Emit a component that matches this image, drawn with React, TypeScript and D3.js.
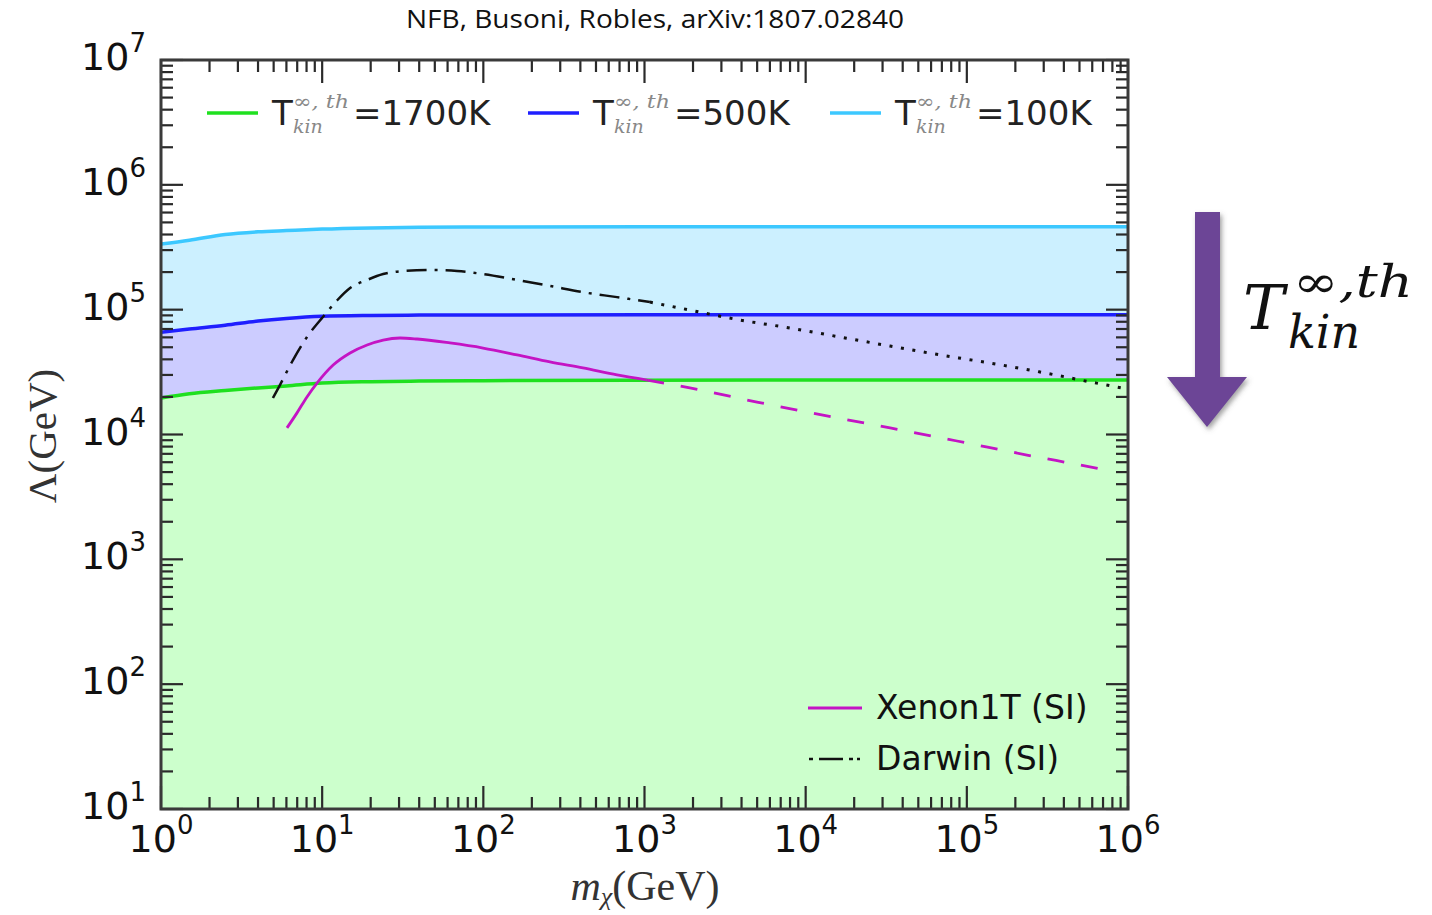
import { useEffect, useRef } from "react";
import * as d3 from "d3";

// thermal kinetic bands, Lambda (GeV) vs m_chi (GeV)
const bandMass = [1, 1.5, 2.5, 4, 6, 10, 20, 40, 100, 1e3, 1e4, 1e5, 1e6];
const lambda1700K = [1.96e4, 2.12e4, 2.25e4, 2.36e4, 2.45e4, 2.58e4, 2.65e4, 2.68e4, 2.7e4, 2.72e4, 2.73e4, 2.73e4, 2.73e4];
const lambda500K = [6.6e4, 7.0e4, 7.5e4, 8.1e4, 8.5e4, 8.85e4, 9.0e4, 9.05e4, 9.08e4, 9.1e4, 9.1e4, 9.1e4, 9.1e4];
const lambda100K = [3.35e5, 3.6e5, 4.0e5, 4.2e5, 4.3e5, 4.42e5, 4.52e5, 4.58e5, 4.6e5, 4.62e5, 4.62e5, 4.62e5, 4.62e5];
const tempLabels = ["1700K", "500K", "100K"];

// direct detection limits
const xenonMass = [6.05, 6.98, 8.05, 9.29, 11.7, 14.9, 19.0, 23.9, 30.4, 38.8, 62.1, 99.6, 162, 259, 415, 675, 1040, 1910, 4990, 1.28e4, 3.34e4, 8.69e4, 2.36e5, 6.24e5, 7.2e5];
const xenonLambda = [1.13e4, 1.49e4, 2.0e4, 2.58e4, 3.6e4, 4.5e4, 5.21e4, 5.71e4, 5.93e4, 5.82e4, 5.41e4, 4.93e4, 4.34e4, 3.81e4, 3.41e4, 3.0e4, 2.73e4, 2.36e4, 1.82e4, 1.43e4, 1.13e4, 8.87e3, 6.85e3, 5.4e3, 5.2e3];
const xenonDashedFrom = 1040;

const darwinMass = [4.95, 5.47, 6.59, 8.05, 10.1, 12.4, 14.9, 19.0, 23.9, 31.8, 46.7, 68.7, 99.6, 162, 259, 415, 675, 1080, 1910, 3910, 8000, 1.63e4, 3.34e4, 6.82e4, 1.39e5, 2.84e5, 5.81e5, 1e6];
const darwinLambda = [1.96e4, 2.49e4, 3.95e4, 6.04e4, 8.73e4, 1.19e5, 1.49e5, 1.73e5, 1.93e5, 2.04e5, 2.08e5, 2.04e5, 1.93e5, 1.73e5, 1.55e5, 1.38e5, 1.26e5, 1.15e5, 9.93e4, 8.26e4, 7.13e4, 6.04e4, 5.11e4, 4.34e4, 3.74e4, 3.17e4, 2.64e4, 2.31e4];
const darwinDottedFrom = 1080;

const xDecades = [0, 1, 2, 3, 4, 5, 6];
const yDecades = [1, 2, 3, 4, 5, 6, 7];

const W = 1432, H = 915;
const left = 161, right = 1128, top = 60, bottom = 809;

function App() {
    const ref = useRef(null);

    useEffect(() => {
        const svg = d3.select(ref.current);
        svg.selectAll("*").remove();

        const x = d3.scaleLog().domain([1, 1e6]).range([left, right]);
        const y = d3.scaleLog().domain([10, 1e7]).range([bottom, top]);

        svg.append("defs").append("clipPath").attr("id", "plotclip")
            .append("rect").attr("x", left).attr("y", top)
            .attr("width", right - left).attr("height", bottom - top);
        const shadow = svg.select("defs").append("filter").attr("id", "shadow")
            .attr("x", "-30%").attr("y", "-30%").attr("width", "160%").attr("height", "160%");
        shadow.append("feDropShadow").attr("dx", 2).attr("dy", 3).attr("stdDeviation", 2.5)
            .attr("flood-color", "#555").attr("flood-opacity", 0.55);

        const plot = svg.append("g").attr("clip-path", "url(#plotclip)");

        const bands = bandMass.map((m, i) => ({ m, g: lambda1700K[i], b: lambda500K[i], c: lambda100K[i] }));
        const area = (lo, hi) => d3.area()
            .x(d => x(d.m)).y0(d => y(lo(d))).y1(d => y(hi(d)))
            .curve(d3.curveMonotoneX);

        plot.append("path").datum(bands).attr("fill", "#ccffcc").attr("d", area(() => 10, d => d.g));
        plot.append("path").datum(bands).attr("fill", "#ccccff").attr("d", area(d => d.g, d => d.b));
        plot.append("path").datum(bands).attr("fill", "#ccf0ff").attr("d", area(d => d.b, d => d.c));

        const line = d3.line().x(d => x(d[0])).y(d => y(d[1])).curve(d3.curveMonotoneX);
        const bandLines = [
            { key: "g", color: "#1fe01f" },
            { key: "b", color: "#1f1fff" },
            { key: "c", color: "#3cc8ff" },
        ];
        bandLines.forEach(bl => {
            plot.append("path").datum(bands.map(d => [d.m, d[bl.key]]))
                .attr("fill", "none").attr("stroke", bl.color).attr("stroke-width", 3.5)
                .attr("d", line);
        });

        const xenon = xenonMass.map((m, i) => [m, xenonLambda[i]]);
        plot.append("path").datum(xenon.filter(d => d[0] <= xenonDashedFrom))
            .attr("fill", "none").attr("stroke", "#c414c4").attr("stroke-width", 2.8).attr("d", line);
        plot.append("path").datum(xenon.filter(d => d[0] >= xenonDashedFrom))
            .attr("fill", "none").attr("stroke", "#c414c4").attr("stroke-width", 2.8)
            .attr("stroke-dasharray", "17,17").attr("d", line);

        const darwin = darwinMass.map((m, i) => [m, darwinLambda[i]]);
        plot.append("path").datum(darwin.filter(d => d[0] <= darwinDottedFrom))
            .attr("fill", "none").attr("stroke", "#111").attr("stroke-width", 2.5)
            .attr("stroke-dasharray", "20,8,3,8").attr("d", line);
        plot.append("path").datum(darwin.filter(d => d[0] >= darwinDottedFrom))
            .attr("fill", "none").attr("stroke", "#111").attr("stroke-width", 3)
            .attr("stroke-dasharray", "3,8.6").attr("d", line);

        // ticks on all four sides, pointing inwards
        const ticks = svg.append("g").attr("stroke", "#2a2a2a").attr("stroke-width", 2.2);
        const xMinor = [], yMinor = [];
        xDecades.slice(0, -1).forEach(e => d3.range(2, 10).forEach(k => xMinor.push(k * 10 ** e)));
        yDecades.slice(0, -1).forEach(e => d3.range(2, 10).forEach(k => yMinor.push(k * 10 ** e)));
        xDecades.forEach(e => {
            const px = x(10 ** e);
            ticks.append("line").attr("x1", px).attr("x2", px).attr("y1", bottom).attr("y2", bottom - 23);
            ticks.append("line").attr("x1", px).attr("x2", px).attr("y1", top).attr("y2", top + 23);
        });
        xMinor.forEach(v => {
            const px = x(v);
            ticks.append("line").attr("x1", px).attr("x2", px).attr("y1", bottom).attr("y2", bottom - 12);
            ticks.append("line").attr("x1", px).attr("x2", px).attr("y1", top).attr("y2", top + 12);
        });
        yDecades.forEach(e => {
            const py = y(10 ** e);
            ticks.append("line").attr("y1", py).attr("y2", py).attr("x1", left).attr("x2", left + 22);
            ticks.append("line").attr("y1", py).attr("y2", py).attr("x1", right).attr("x2", right - 22);
        });
        yMinor.forEach(v => {
            const py = y(v);
            ticks.append("line").attr("y1", py).attr("y2", py).attr("x1", left).attr("x2", left + 12);
            ticks.append("line").attr("y1", py).attr("y2", py).attr("x1", right).attr("x2", right - 12);
        });

        svg.append("rect").attr("x", left).attr("y", top)
            .attr("width", right - left).attr("height", bottom - top)
            .attr("fill", "none").attr("stroke", "#3a3a3a").attr("stroke-width", 3);

        // tick labels
        const font = "DejaVu Sans";
        xDecades.forEach(e => {
            const t = svg.append("text").attr("x", x(10 ** e)).attr("y", 852)
                .attr("text-anchor", "middle").attr("font-family", font).attr("font-size", 38).attr("fill", "#111");
            t.append("tspan").text("10");
            t.append("tspan").attr("dy", -18).attr("font-size", 26).text(e);
        });
        yDecades.forEach(e => {
            const t = svg.append("text").attr("x", 146).attr("y", y(10 ** e) + 10)
                .attr("text-anchor", "end").attr("font-family", font).attr("font-size", 38).attr("fill", "#111");
            t.append("tspan").text("10");
            t.append("tspan").attr("dy", -18).attr("font-size", 26).text(e);
        });

        // axis labels
        const xl = svg.append("text").attr("x", 645).attr("y", 900).attr("text-anchor", "middle")
            .attr("font-family", "Liberation Serif").attr("font-size", 42).attr("fill", "#333");
        xl.append("tspan").attr("font-style", "italic").text("m");
        xl.append("tspan").attr("font-style", "italic").attr("font-size", 26).attr("dy", 5).text("χ");
        xl.append("tspan").attr("dy", -5).text("(GeV)");

        svg.append("text").attr("transform", "translate(56,436) rotate(-90)")
            .attr("text-anchor", "middle").attr("font-family", "Liberation Serif")
            .attr("font-size", 41).attr("fill", "#333").text("Λ(GeV)");

        svg.append("text").attr("x", 655).attr("y", 28).attr("text-anchor", "middle")
            .attr("font-family", "Open Sans").attr("font-size", 26).attr("fill", "#111")
            .attr("textLength", 498).attr("lengthAdjust", "spacingAndGlyphs")
            .text("NFB, Busoni, Robles, arXiv:1807.02840");

        // top legend
        const legendPos = [207, 528, 830];
        tempLabels.forEach((lab, i) => {
            const lx = legendPos[i];
            const g = svg.append("g");
            g.append("line").attr("x1", lx).attr("x2", lx + 51).attr("y1", 113).attr("y2", 113)
                .attr("stroke", bandLines[i].color).attr("stroke-width", 3.5);
            const tx = lx + 65;
            g.append("text").attr("x", tx).attr("y", 125).attr("font-family", font)
                .attr("font-size", 34).attr("fill", "#222").text("T");
            g.append("text").attr("x", tx + 21).attr("y", 108).attr("font-family", "DejaVu Serif")
                .attr("font-style", "italic").attr("font-size", 19).attr("fill", "#888")
                .attr("textLength", 56).attr("lengthAdjust", "spacingAndGlyphs").text("∞, th");
            g.append("text").attr("x", tx + 21).attr("y", 133).attr("font-family", "DejaVu Serif")
                .attr("font-style", "italic").attr("font-size", 19).attr("fill", "#888").text("kin");
            g.append("text").attr("x", tx + 81).attr("y", 125).attr("font-family", font)
                .attr("font-size", 34).attr("fill", "#222").text("=" + lab);
        });

        // bottom legend
        svg.append("line").attr("x1", 808).attr("x2", 862).attr("y1", 708).attr("y2", 708)
            .attr("stroke", "#c414c4").attr("stroke-width", 3);
        svg.append("text").attr("x", 876).attr("y", 719).attr("font-family", font)
            .attr("font-size", 33).attr("fill", "#111").text("Xenon1T (SI)");
        svg.append("line").attr("x1", 809).attr("x2", 860).attr("y1", 759).attr("y2", 759)
            .attr("stroke", "#111").attr("stroke-width", 2.5).attr("stroke-dasharray", "4,6,24,6,4");
        svg.append("text").attr("x", 876).attr("y", 770).attr("font-family", font)
            .attr("font-size", 33).attr("fill", "#111").text("Darwin (SI)");

        // arrow annotation
        svg.append("path").attr("d", "M1195,212 H1220 V377 H1247 L1207,427 L1167,377 H1195 Z")
            .attr("fill", "#6c4596").attr("filter", "url(#shadow)");
        svg.append("text").attr("x", 1243).attr("y", 329).attr("font-family", "DejaVu Serif")
            .attr("font-style", "italic").attr("font-size", 62).attr("fill", "#111").text("T");
        svg.append("text").attr("x", 1293).attr("y", 297).attr("font-family", "DejaVu Serif")
            .attr("font-style", "italic").attr("font-size", 44).attr("fill", "#111")
            .attr("textLength", 120).attr("lengthAdjust", "spacingAndGlyphs").text("∞,th");
        svg.append("text").attr("x", 1288).attr("y", 348).attr("font-family", "DejaVu Serif")
            .attr("font-style", "italic").attr("font-size", 46).attr("fill", "#111").text("kin");
    }, []);

    return (
        <svg ref={ref} width={W} height={H}
            style={{ position: "absolute", left: 0, top: 0, background: "#fff" }} />
    );
}

export default App;
